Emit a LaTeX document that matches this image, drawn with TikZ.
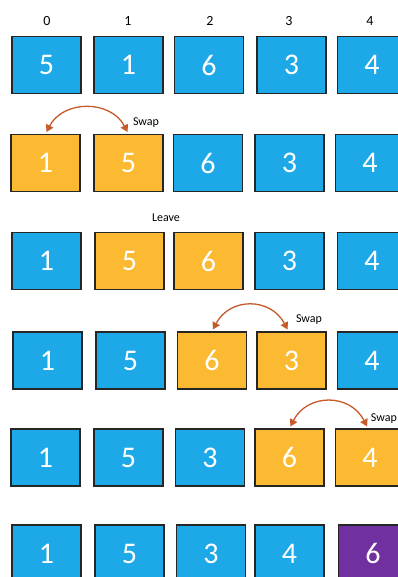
\documentclass[tikz,border=0pt]{standalone}
\usepackage{fontspec}
\setmainfont{Carlito}
\usetikzlibrary{arrows.meta}
\definecolor{boxblue}{RGB}{29,169,232}
\definecolor{boxgold}{RGB}{251,186,50}
\definecolor{boxpurple}{RGB}{112,48,160}
\definecolor{arrowred}{RGB}{197,90,43}
\tikzset{
  cell/.style={draw=black!85, line width=1.6pt, minimum width=69pt, minimum height=57pt,
    inner sep=0pt, text=white, font=\fontsize{30}{30}\selectfont},
  bluecell/.style={cell, fill=boxblue},
  goldcell/.style={cell, fill=boxgold},
  purplecell/.style={cell, fill=boxpurple},
  idx/.style={font=\fontsize{14}{14}\selectfont, text=black, inner sep=0pt},
  note/.style={font=\fontsize{12}{12}\selectfont, text=black, inner sep=0pt},
  swaparrow/.style={draw=arrowred, line width=1.3pt,
    {Triangle[width=8pt,length=7pt]}-{Triangle[width=8pt,length=7pt]}, shorten <=2pt, shorten >=2pt}
}
\begin{document}
\begin{tikzpicture}[x=1pt,y=-1pt]
\useasboundingbox (0,0) rectangle (398,577);
\clip (0,0) rectangle (398,577);
\fill[white] (0,0) rectangle (398,577);
% index labels
\node[idx] (i0) at (47,21) {0};
\node[idx] (i1) at (128,21) {1};
\node[idx] (i2) at (210,21) {2};
\node[idx] (i3) at (289,21) {3};
\node[idx] (i4) at (370,21) {4};
% row 1
\node[bluecell] (a0) at (46.5,65) {5};
\node[bluecell] (a1) at (128.5,65) {1};
\node[bluecell] (a2) at (209,65) {6};
\node[bluecell] (a3) at (291.5,65) {3};
\node[bluecell] (a4) at (372,65) {4};
% row 2
\node[goldcell] (b0) at (45.5,163) {1};
\node[goldcell] (b1) at (128.5,163) {5};
\node[bluecell] (b2) at (208,163) {6};
\node[bluecell] (b3) at (289.5,163) {3};
\node[bluecell] (b4) at (370,163) {4};
\draw[swaparrow] (b1.north) .. controls ([xshift=-18pt,yshift=34pt]b1.north) and ([xshift=18pt,yshift=34pt]b0.north) .. (b0.north);
\node[note] (s1) at (146,123) {Swap};
% row 3
\node[note] (lv) at (166,218) {Leave};
\node[bluecell] (c0) at (46.5,261) {1};
\node[goldcell] (c1) at (129.5,261) {5};
\node[goldcell] (c2) at (208.5,261) {6};
\node[bluecell] (c3) at (289.5,261) {3};
\node[bluecell] (c4) at (372,261) {4};
% row 4
\node[bluecell] (d0) at (47.5,360.5) {1};
\node[bluecell] (d1) at (130.5,360.5) {5};
\node[goldcell] (d2) at (212,360.5) {6};
\node[goldcell] (d3) at (291.5,360.5) {3};
\node[bluecell] (d4) at (372,360.5) {4};
\draw[swaparrow] ([xshift=-3pt]d3.north) .. controls ([xshift=-21pt,yshift=34pt]d3.north) and ([xshift=18pt,yshift=34pt]d2.north) .. (d2.north);
\node[note] (s2) at (309,320) {Swap};
% row 5
\node[bluecell] (e0) at (45.5,457.5) {1};
\node[bluecell] (e1) at (128.5,457.5) {5};
\node[bluecell] (e2) at (210,457.5) {3};
\node[goldcell] (e3) at (289.5,457.5) {6};
\node[goldcell] (e4) at (370,457.5) {4};
\draw[swaparrow] ([xshift=-2pt]e4.north) .. controls ([xshift=-20pt,yshift=35pt]e4.north) and ([xshift=18pt,yshift=35pt]e3.north) .. (e3.north);
\node[note, anchor=east] (s3) at (397,419) {Swap};
% row 6
\node[bluecell] (f0) at (46.5,553.5) {1};
\node[bluecell] (f1) at (129.5,553.5) {5};
\node[bluecell] (f2) at (211,553.5) {3};
\node[bluecell] (f3) at (289.5,553.5) {4};
\node[purplecell] (f4) at (373,553.5) {6};
\end{tikzpicture}
\end{document}
